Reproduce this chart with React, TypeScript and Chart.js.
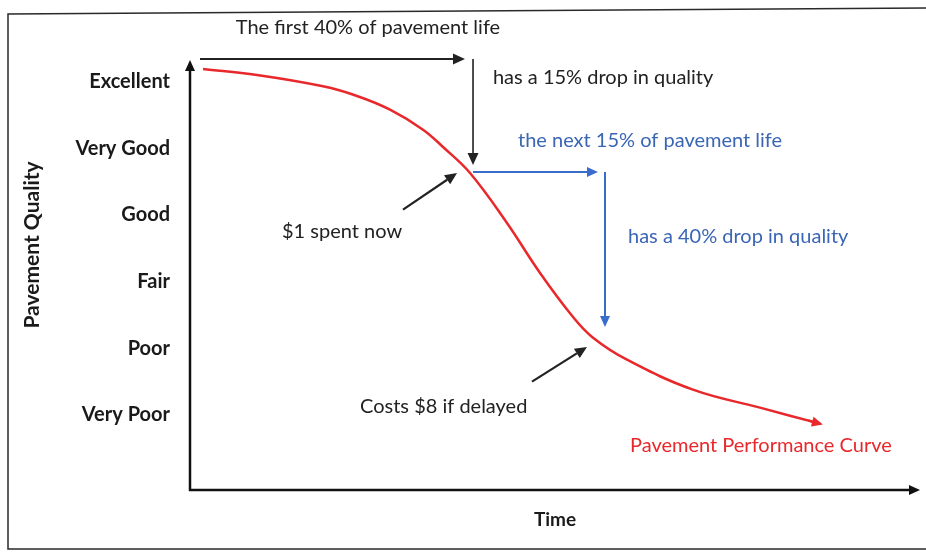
import React, { useEffect, useRef } from "react";
import { Chart, registerables } from "chart.js";

Chart.register(...registerables);

// Pavement performance curve (time in % of axis length, quality on 0..6 scale)
const curveX = [1.78, 9.18, 18.22, 22.88, 27.4, 31.92, 34.66, 38.36, 43.42, 47.95, 52.47, 55.21, 59.86, 68.9, 78.08, 86.3];
const curveY = [6.19, 6.1, 5.93, 5.785, 5.58, 5.28, 5.02, 4.63, 3.88, 3.13, 2.47, 2.16, 1.83, 1.38, 1.11, 0.87];

// Y tick labels
const qualityValues = [1, 2, 3, 4, 5, 6];
const qualityLabels = ["Very Poor", "Poor", "Fair", "Good", "Very Good", "Excellent"];

// Annotation arrows [x0, y0, x1, y1] in data units
const blackArrows = [
  [1.37, 6.34, 37.67, 6.34],
  [38.77, 6.34, 38.77, 4.75],
  [29.18, 4.08, 36.58, 4.63],
  [46.85, 1.5, 54.38, 2.02],
];
const blueArrows = [
  [38.77, 4.645, 55.89, 4.645],
  [56.85, 4.645, 56.85, 2.32],
];

// Annotation texts with anchor (x, y) in data units
const blackNotes = ["The first 40% of pavement life", "has a 15% drop in quality", "$1 spent now", "Costs $8 if delayed"];
const blackNoteX = [24.38, 41.5, 12.6, 23.29];
const blackNoteY = [6.805, 6.055, 3.745, 1.12];
const blackNoteAlign = ["center", "left", "left", "left"];
const blueNotes = ["the next 15% of pavement life", "has a 40% drop in quality"];
const blueNoteX = [44.93, 60.0];
const blueNoteY = [5.11, 3.67];
const redNotes = ["Pavement Performance Curve"];
const redNoteX = [60.27];
const redNoteY = [0.535];

const yAxisTitle = "Pavement Quality";
const xAxisTitle = "Time";

const FONT = "Lato, 'Open Sans', sans-serif";
const RED = "#e8282b";
const BLUE_TEXT = "#3a66b5";
const BLUE_LINE = "#3a6ccc";

function arrow(ctx: CanvasRenderingContext2D, x0: number, y0: number, x1: number, y1: number, color: string, width: number, head = 10, half = 5) {
  const ang = Math.atan2(y1 - y0, x1 - x0);
  const bx = x1 - Math.cos(ang) * head;
  const by = y1 - Math.sin(ang) * head;
  ctx.save();
  ctx.strokeStyle = color;
  ctx.fillStyle = color;
  ctx.lineWidth = width;
  ctx.lineCap = "butt";
  ctx.beginPath();
  ctx.moveTo(x0, y0);
  ctx.lineTo(bx, by);
  ctx.stroke();
  ctx.beginPath();
  ctx.moveTo(x1, y1);
  ctx.lineTo(bx + Math.sin(ang) * half, by - Math.cos(ang) * half);
  ctx.lineTo(bx - Math.sin(ang) * half, by + Math.cos(ang) * half);
  ctx.closePath();
  ctx.fill();
  ctx.restore();
}

const diagramPlugin = {
  id: "diagram",
  afterDraw(chart: any) {
    const ctx: CanvasRenderingContext2D = chart.ctx;
    const xs = chart.scales.x;
    const ys = chart.scales.y;
    const ca = chart.chartArea;
    const px = (v: number) => xs.getPixelForValue(v);
    const py = (v: number) => ys.getPixelForValue(v);

    // frame
    ctx.save();
    ctx.strokeStyle = "#2a2a2a";
    ctx.lineWidth = 1.5;
    ctx.beginPath();
    ctx.moveTo(926, 8);
    ctx.lineTo(8, 14);
    ctx.lineTo(8, 549);
    ctx.lineTo(926, 549);
    ctx.stroke();
    ctx.restore();

    // axes
    arrow(ctx, ca.left, ca.bottom + 1, ca.left, ca.top, "#111", 2.5, 11, 5);
    arrow(ctx, ca.left - 1, ca.bottom, ca.right, ca.bottom, "#111", 2.5, 11, 5);

    // red end arrowhead along the curve
    const n = curveX.length;
    const ex0 = px(curveX[n - 2]), ey0 = py(curveY[n - 2]);
    const ex1 = px(curveX[n - 1]), ey1 = py(curveY[n - 1]);
    const ang = Math.atan2(ey1 - ey0, ex1 - ex0);
    arrow(ctx, ex1 - Math.cos(ang) * 12, ey1 - Math.sin(ang) * 12, ex1 + Math.cos(ang) * 3, ey1 + Math.sin(ang) * 3, RED, 2.5, 11, 5);

    blackArrows.forEach((a, i) => {
      arrow(ctx, px(a[0]), py(a[1]), px(a[2]), py(a[3]), "#222", i === 1 ? 1.6 : 2.2, 12, 5.5);
    });
    blueArrows.forEach((a) => {
      arrow(ctx, px(a[0]), py(a[1]), px(a[2]), py(a[3]), BLUE_LINE, 2, 11, 5);
    });

    ctx.save();
    ctx.textBaseline = "middle";
    ctx.font = `20px ${FONT}`;
    ctx.fillStyle = "#222";
    blackNotes.forEach((t, i) => {
      ctx.textAlign = blackNoteAlign[i] as CanvasTextAlign;
      ctx.fillText(t, px(blackNoteX[i]), py(blackNoteY[i]));
    });
    ctx.textAlign = "left";
    ctx.fillStyle = BLUE_TEXT;
    blueNotes.forEach((t, i) => ctx.fillText(t, px(blueNoteX[i]), py(blueNoteY[i])));
    ctx.fillStyle = RED;
    redNotes.forEach((t, i) => ctx.fillText(t, px(redNoteX[i]), py(redNoteY[i])));

    // rotated y axis title
    ctx.fillStyle = "#1a1a1a";
    ctx.font = `bold 21px ${FONT}`;
    ctx.translate(32, 245);
    ctx.rotate(-Math.PI / 2);
    ctx.textAlign = "center";
    ctx.fillText(yAxisTitle, 0, 0);
    ctx.restore();
  },
};

export default function App() {
  const ref = useRef<HTMLCanvasElement>(null);
  useEffect(() => {
    if (!ref.current) return;
    const chart = new Chart(ref.current, {
      type: "line",
      data: {
        datasets: [
          {
            data: curveX.map((x, i) => ({ x, y: curveY[i] })),
            borderColor: RED,
            borderWidth: 2.5,
            pointRadius: 0,
            tension: 0.4,
            fill: false,
          },
        ],
      },
      options: {
        animation: false,
        responsive: false,
        layout: { padding: { left: 10, top: 60, right: 6, bottom: 6 } },
        plugins: { legend: { display: false }, tooltip: { enabled: false } },
        scales: {
          x: {
            type: "linear",
            min: 0,
            max: 100,
            grid: { display: false, drawTicks: false },
            border: { display: false },
            ticks: { display: false },
            title: {
              display: true,
              text: xAxisTitle,
              color: "#1a1a1a",
              font: { family: FONT, size: 19, weight: "bold" },
              padding: { top: 0, bottom: 17 },
            },
            afterFit: (s: any) => {
              s.height = 58;
            },
          },
          y: {
            type: "linear",
            min: -0.125,
            max: 6.325,
            grid: { display: false, drawTicks: false },
            border: { display: false },
            afterBuildTicks: (s: any) => {
              s.ticks = qualityValues.map((v) => ({ value: v }));
            },
            ticks: {
              padding: 20,
              color: "#1a1a1a",
              font: { family: FONT, size: 20, weight: "bold" },
              callback: (v: any) => {
                const i = qualityValues.indexOf(Number(v));
                return i >= 0 ? qualityLabels[i] : "";
              },
            },
            title: { display: false },
            afterFit: (s: any) => {
              s.width = 180;
            },
          },
        },
      },
      plugins: [diagramPlugin],
    });
    return () => chart.destroy();
  }, []);
  return (
    <div style={{ position: "fixed", left: 0, top: 0, width: 926, height: 554, background: "#fff" }}>
      <canvas ref={ref} width={926} height={554} />
    </div>
  );
}
